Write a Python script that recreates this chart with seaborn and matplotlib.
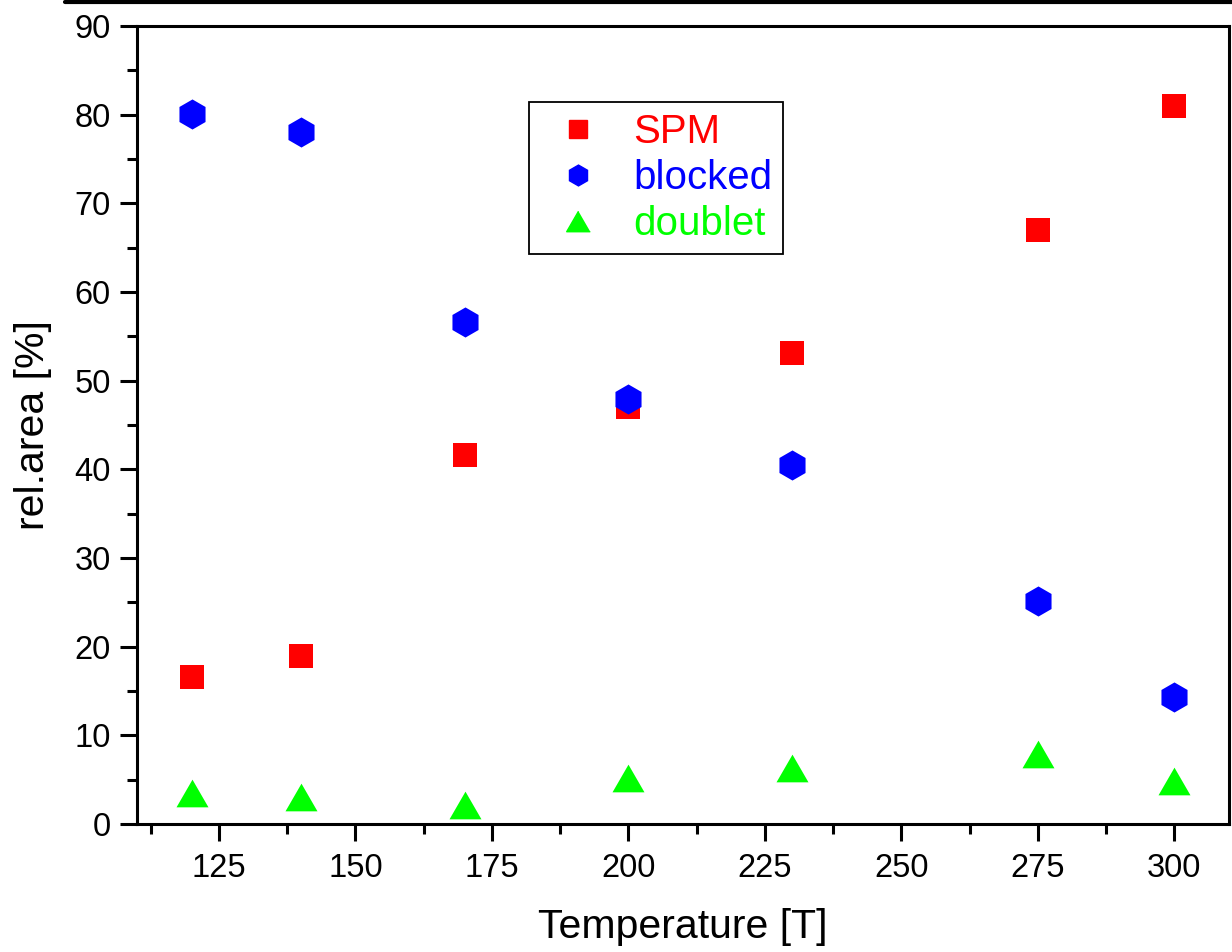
import matplotlib
matplotlib.use("Agg")
import matplotlib.pyplot as plt
import seaborn as sns
import pandas as pd
from matplotlib.lines import Line2D
from matplotlib.ticker import MultipleLocator

# data
temperature = [120, 140, 170, 200, 230, 275, 300]
spm = [16.6, 19.0, 41.6, 47.0, 53.1, 67.0, 81.0]
blocked = [80.1, 78.0, 56.6, 47.9, 40.5, 25.1, 14.3]
doublet = [3.5, 3.1, 2.1, 5.2, 6.3, 7.9, 4.9]

labels = ["SPM", "blocked", "doublet"]
colors = ["#ff0000", "#0000ff", "#00ff00"]

sns.set_style("ticks")
plt.rcParams["font.family"] = ["Liberation Sans", "DejaVu Sans"]
plt.rcParams["text.color"] = "black"
plt.rcParams["axes.labelcolor"] = "black"

df = pd.DataFrame({"T": temperature, "SPM": spm, "blocked": blocked, "doublet": doublet})

fig = plt.figure(figsize=(12.32, 9.52), dpi=100)
ax = fig.add_axes([137 / 1232, 1 - 824 / 952, (1229 - 137) / 1232, (824 - 26) / 952])

tri = [(0, 0.866), (-1, -0.866), (1, -0.866)]
markers = ["s", "h", tri]
sizes = [300, 470, 530]

for lab, col, mk, sz in zip(labels, colors, markers, sizes):
    sns.scatterplot(data=df, x="T", y=lab, ax=ax, color=col, marker=mk, s=sz,
                    linewidth=0, label=lab, legend=False)

ax.set_xlim(110, 310)
ax.set_ylim(0, 90)
ax.xaxis.set_major_locator(MultipleLocator(25))
ax.xaxis.set_minor_locator(MultipleLocator(12.5))
ax.yaxis.set_major_locator(MultipleLocator(10))
ax.yaxis.set_minor_locator(MultipleLocator(5))

for sp in ax.spines.values():
    sp.set_linewidth(2.2)
    sp.set_color("black")
ax.tick_params(which="major", length=12, width=2.2, labelsize=23.5, colors="black")
ax.tick_params(which="minor", length=7, width=2.2, colors="black")
ax.tick_params(axis="x", which="major", pad=9)
ax.tick_params(axis="y", which="major", pad=7)
ax.tick_params(top=False, right=False, which="both")

ax.set_xlabel("Temperature [T]", fontsize=29.5, labelpad=17)
ax.set_ylabel("rel.area [%]", fontsize=29.5, labelpad=16)

# legend with coloured text, like the original
handles = [Line2D([], [], linestyle="none", marker=m, color=c, markersize=ms)
           for m, c, ms in zip(markers, colors, [13, 15, 17])]
leg = ax.legend(handles, labels, loc="upper left", bbox_to_anchor=(0.359, 0.905),
                borderaxespad=0, frameon=True, fancybox=False, framealpha=1,
                edgecolor="black", fontsize=29, labelcolor=colors,
                labelspacing=0.2, handlelength=1.85, handletextpad=0.45,
                borderpad=0.28)
leg.get_frame().set_linewidth(1.3)

# thick line along the top edge of the picture
fig.add_artist(Line2D([65 / 1232, 1], [1 - 2 / 952, 1 - 2 / 952], color="black", linewidth=3))

fig.savefig("out.png", dpi=100)
